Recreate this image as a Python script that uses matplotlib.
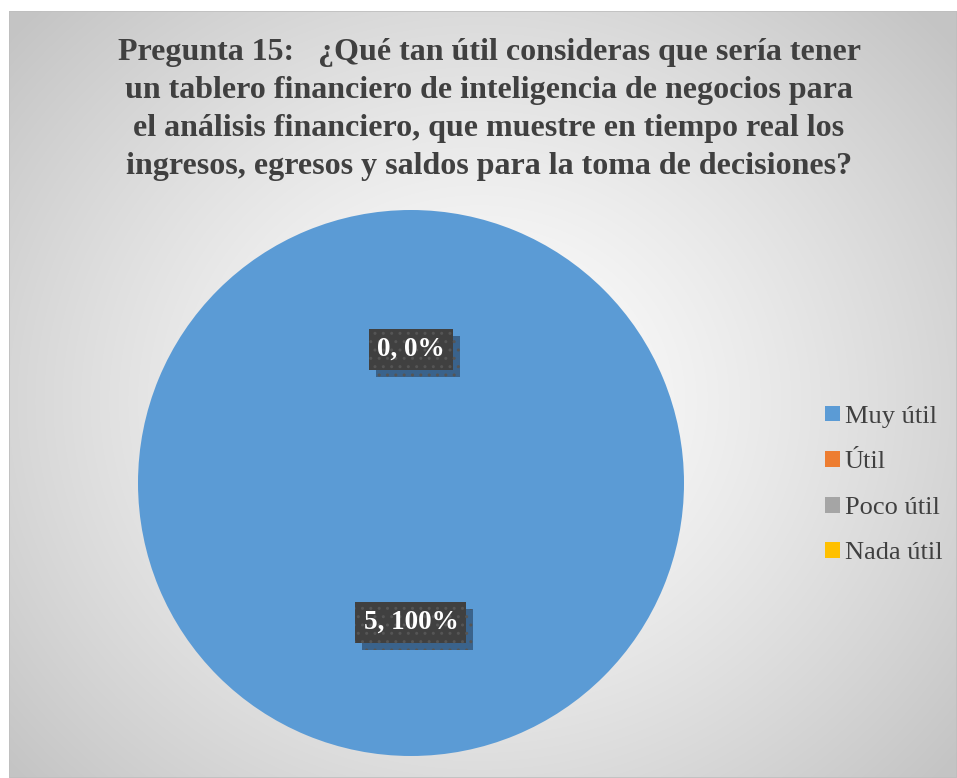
import numpy as np
import matplotlib
matplotlib.use("Agg")
import matplotlib.pyplot as plt
import matplotlib.patheffects as pe
from matplotlib.patches import Rectangle

titulo = ("Pregunta 15:   ¿Qué tan útil consideras que sería tener\n"
          "un tablero financiero de inteligencia de negocios para\n"
          "el análisis financiero, que muestre en tiempo real los\n"
          "ingresos, egresos y saldos para la toma de decisiones?")
categorias = ["Muy útil", "Útil", "Poco útil", "Nada útil"]
respuestas = [5, 0, 0, 0]
colores = ["#5B9BD5", "#ED7D31", "#A5A5A5", "#FFC000"]

plt.rcParams["font.family"] = ["Liberation Serif", "DejaVu Serif"]
W, H = 957, 778
fig = plt.figure(figsize=(W / 100, H / 100), dpi=100)

# fondo con degradado radial (blanco al centro, gris en las esquinas)
bg = fig.add_axes([9 / W, 0, (W - 9) / W, (H - 11) / H])
bg.set_axis_off()
yy, xx = np.mgrid[0:H - 11, 0:W - 9]
cx, cy = 470, 390
d = np.sqrt(((xx - cx) / 620.0) ** 2 + ((yy - cy) / 560.0) ** 2)
g = 1.0 - 0.23 * np.clip(d, 0, 1) ** 1.3
bg.imshow(np.dstack([g, g, g]), aspect="auto", extent=[0, 1, 0, 1])
bg.add_patch(Rectangle((0, 0), 1, 1, transform=bg.transAxes, fill=False,
                       edgecolor="#bfbfbf", lw=1.2))

fig.text(489 / W, 1 - 109.5 / H, titulo, ha="center", va="center",
         fontsize=23, fontweight="bold", color="#404040", linespacing=1.41)

cx_p, cy_p, r = 411, 483, 273
ax = fig.add_axes([(cx_p - r) / W, (H - cy_p - r) / H, 2 * r / W, 2 * r / H])
total = sum(respuestas)
wedges, _, autotexts = ax.pie(
    respuestas, colors=colores, startangle=90, counterclock=False,
    autopct=lambda p: "", pctdistance=0.5, radius=1,
    wedgeprops=dict(linewidth=0))
ax.set_xlim(-1, 1)
ax.set_ylim(-1, 1)
ax.set_aspect("equal")

# etiquetas de datos; las de valor cero caen en el mismo punto
puestas = set()
for t, v in zip(autotexts, respuestas):
    x, y = t.get_position()
    t.set_visible(False)
    clave = (round(x, 3), round(y, 3))
    if clave in puestas:
        continue
    puestas.add(clave)
    etiqueta = f"{v}, {100 * v / total:.0f}%"
    et = ax.text(x, y, etiqueta, ha="center", va="center_baseline", fontsize=19.5,
                 fontweight="bold", color="white",
                 bbox=dict(boxstyle="square,pad=0.3", facecolor="#404040",
                           edgecolor="#555555", hatch="..", linewidth=0))
    et.get_bbox_patch().set_path_effects([
        pe.SimplePatchShadow(offset=(5, -5), shadow_rgbFace="#1f3550", alpha=0.55),
        pe.Normal()])

leg = fig.legend(wedges, categorias, loc="center left",
                 bbox_to_anchor=(825 / W, 1 - 485 / H), frameon=False,
                 borderpad=0, borderaxespad=0,
                 fontsize=19, handlelength=0.55, handleheight=0.55,
                 handletextpad=0.2, labelspacing=0.88)
for txt in leg.get_texts():
    txt.set_color("#404040")

fig.savefig("out.png", dpi=100)
